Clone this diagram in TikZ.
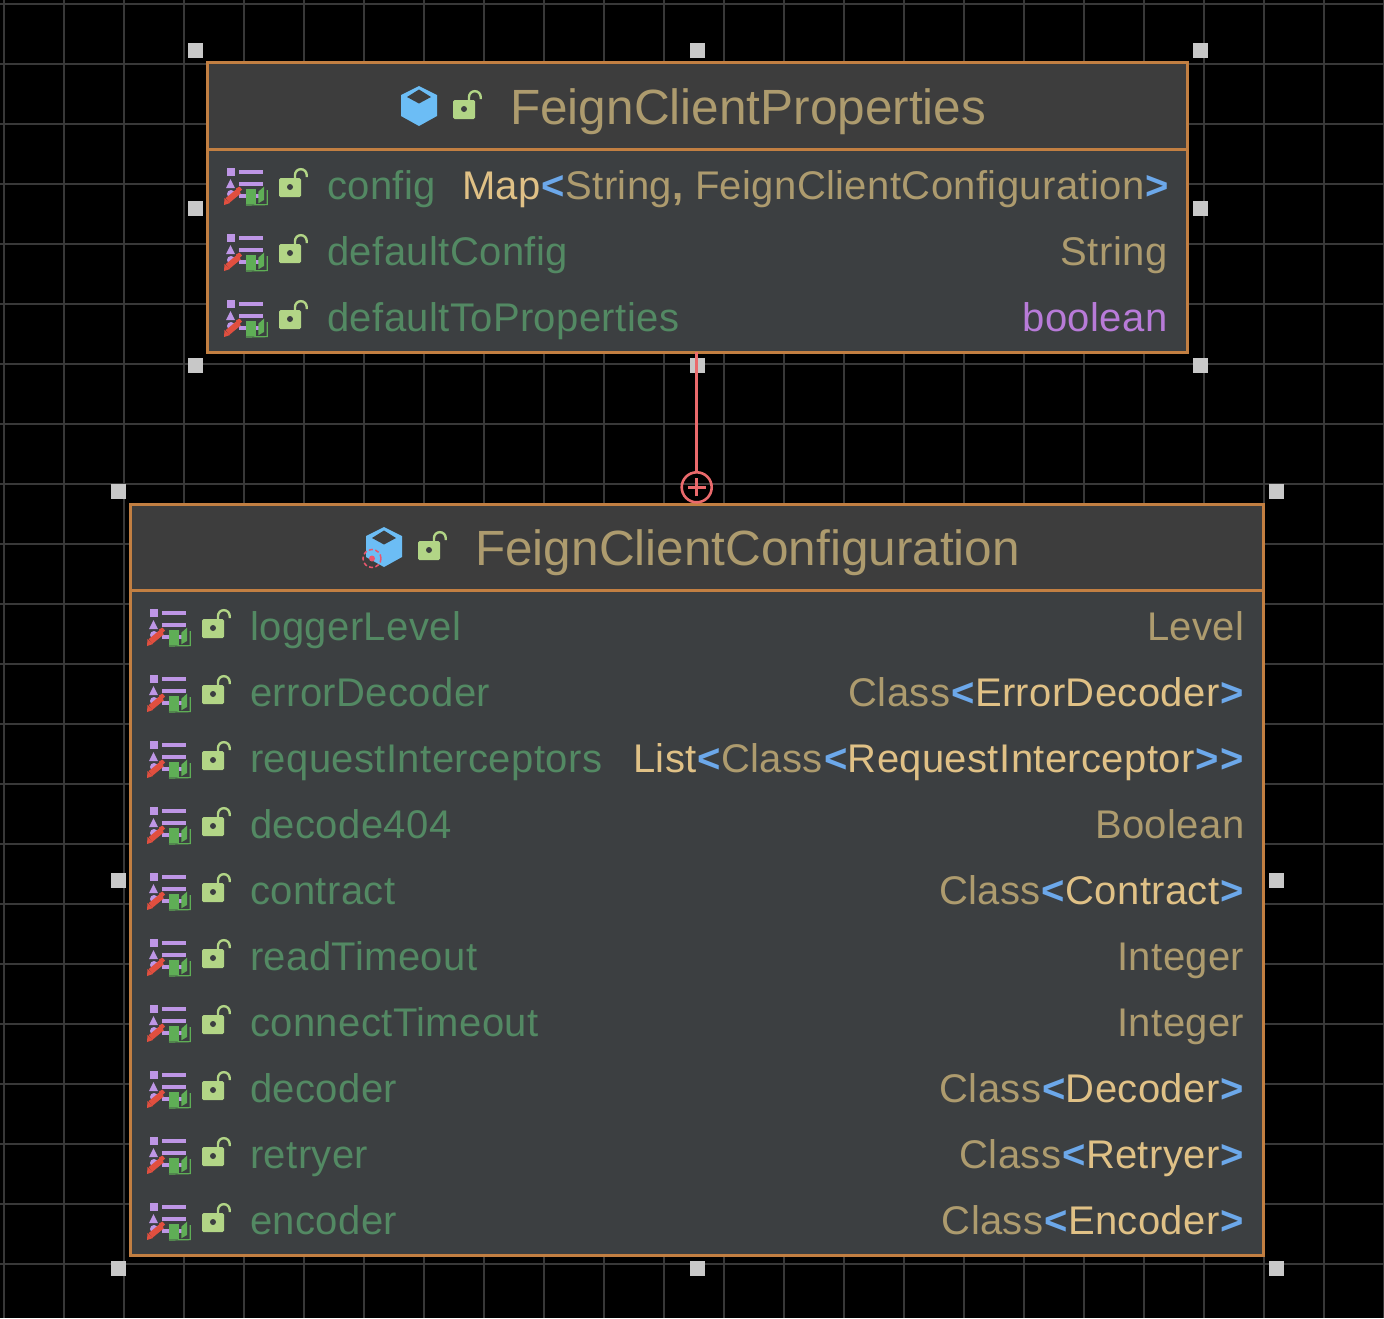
\documentclass[tikz,border=0pt]{standalone}
\usepackage{fontspec}
\setmainfont{Liberation Sans}
\newfontfamily\rowfont[LetterSpace=1]{Liberation Sans}
\usetikzlibrary{positioning}
\definecolor{boxbg}{HTML}{3C3F41}
\definecolor{headbg}{HTML}{3D3D3D}
\definecolor{boxedge}{HTML}{C27F42}
\definecolor{gridline}{HTML}{383838}
\definecolor{handlegray}{HTML}{C8C8C8}
\definecolor{titletan}{HTML}{AD9B6E}
\definecolor{namegreen}{HTML}{538963}
\definecolor{typedim}{HTML}{AD9B6E}
\definecolor{typelit}{HTML}{E0C186}
\definecolor{typeblue}{HTML}{6CA8EA}
\definecolor{typepurple}{HTML}{B87BD8}
\definecolor{linkred}{HTML}{EA6A6C}
\definecolor{lockgreen}{HTML}{B2D586}
\definecolor{fieldpurple}{HTML}{BE96E6}
\definecolor{bookgreen}{HTML}{5FAE56}
\definecolor{penred}{HTML}{E04F3F}
\definecolor{cubeblue}{HTML}{6CBDF5}
\definecolor{targetred}{HTML}{E9566E}
\newcommand{\dimty}[1]{\textcolor{typedim}{#1}}
\newcommand{\litty}[1]{\textcolor{typelit}{#1}}
\newcommand{\tyopen}{\kern1pt\textcolor{typeblue}{\textbf{<}}}
\newcommand{\tyclose}{\kern1pt\textcolor{typeblue}{\textbf{>}}}
\newcommand{\fieldrow}[6]{%
	\pic at (#1,#2) {fieldicon};
	\pic at (#1+55,#2) {lockicon};
	\node[fieldname] (#4name) at (#3,#2+13) {#4};
	\node[fieldtype] (#4type) at (#5+1.5,#2+13) {#6}}
\tikzset{
	handle/.style={fill=handlegray,draw=none,minimum size=15pt,inner sep=0pt,outer sep=0pt},
	umlbox/.style={fill=boxbg,draw=boxedge,line width=3pt,inner sep=0pt,outer sep=0pt,anchor=north west},
	titletext/.style={text=titletan,font=\fontsize{49.5}{49.5}\selectfont,anchor=base west,inner sep=0pt},
	fieldname/.style={text=namegreen,font=\rowfont\fontsize{40}{40}\selectfont,anchor=base west,inner sep=0pt},
	fieldtype/.style={font=\rowfont\fontsize{40}{40}\selectfont,anchor=base east,inner sep=0pt},
	lockicon/.pic={
		\fill[lockgreen,rounded corners=1.5pt] (0,-8) rectangle (22,11);
		\fill[boxbg] (11,1) circle (3pt);
		\draw[lockgreen,line width=2.4pt] (16,-8) -- (16,-11) arc[start angle=180,end angle=360,radius=5.85] -- (27.7,-9);
	},
	fieldicon/.pic={
		\fill[fieldpurple] (3,-18) rectangle (11,-10);
		\fill[fieldpurple] (15,-16) rectangle (39,-12);
		\fill[fieldpurple] (2,2) -- (6.5,-7) -- (11,2) -- cycle;
		\fill[fieldpurple] (15,-4) rectangle (39,0);
		\fill[fieldpurple] (15,8) rectangle (35,12);
		\fill[fieldpurple] (7,8) circle (4);
		\draw[penred,line width=6pt] (3.5,14.5) -- (15,5);
		\fill[penred] (0,19) -- (0.5,12) -- (6,17) -- cycle;
		\fill[penred] (12,2.5) -- (15.5,0.5) -- (18,3.5) -- (15,6.5) -- cycle;
		\fill[bookgreen] (22,3) rectangle (32,18);
		\fill[bookgreen] (34.3,5.7) -- (40,0.7) -- (40,14) -- (34.3,17.3) -- cycle;
		\draw[bookgreen,line width=1.2pt] (22,19) -- (43.3,18.6) -- (43.3,4);
	},
	cubeicon/.pic={
		\fill[cubeblue] (0,-20) -- (18,-11) -- (18,10) -- (0,20) -- (-18,10) -- (-18,-11) -- cycle;
		\fill[headbg] (0,-16.5) -- (12,-9) -- (0,-2.5) -- (-12,-9) -- cycle;
	}
}
\begin{document}
\begin{tikzpicture}[x=1pt,y=-1pt]
	\useasboundingbox (0,0) rectangle (1384,1318);
	\fill[black] (0,0) rectangle (1384,1318);
	% grid
	\foreach \gx in {4,64,...,1384}
		\draw[gridline,line width=2pt] (\gx,0) -- (\gx,1318);
	\foreach \gy in {4,64,...,1318}
		\draw[gridline,line width=2pt] (0,\gy) -- (1384,\gy);

	% first class
	\node[umlbox,minimum width=980.5pt,minimum height=290pt] (propsbox) at (207.3,62.2) {};
	\fill[headbg] (208.8,63.7) rectangle (1186.3,149.5);
	\draw[boxedge,line width=3pt] (propsbox.west |- 0,149.5) -- (propsbox.east |- 0,149.5);
	\pic at (419,106) {cubeicon};
	\pic at (453,108) {lockicon};
	\node[titletext] (propstitle) at (510,124) {FeignClientProperties};

	\fieldrow{224}{186}{327}{config}{1168}{\litty{Map}\tyopen\dimty{String\textbf{,} FeignClientConfiguration}\tyclose};
	\fieldrow{224}{252}{327}{defaultConfig}{1166}{\dimty{String}};
	\fieldrow{224}{318}{327}{defaultToProperties}{1166}{\textcolor{typepurple}{boolean}};

	% second class
	\node[umlbox,minimum width=1133.5pt,minimum height=751pt] (confbox) at (130,504) {};
	\fill[headbg] (131.5,505.5) rectangle (1262,590.5);
	\draw[boxedge,line width=3pt] (confbox.west |- 0,590.5) -- (confbox.east |- 0,590.5);
	\pic at (384,547) {cubeicon};
	\fill[targetred] (372,558.5) circle (3);
	\draw[targetred,line width=1.5pt,dash pattern=on 4pt off 2.5pt] (372,558.5) circle (9);
	\pic at (418,549) {lockicon};
	\node[titletext] (conftitle) at (475,565) {FeignClientConfiguration};

	\fieldrow{147}{627}{250}{loggerLevel}{1243}{\dimty{Level}};
	\fieldrow{147}{693}{250}{errorDecoder}{1243}{\dimty{Class}\tyopen\litty{ErrorDecoder}\tyclose};
	\fieldrow{147}{759}{250}{requestInterceptors}{1243}{\litty{List}\tyopen\dimty{Class}\tyopen\litty{RequestInterceptor}\tyclose\tyclose};
	\fieldrow{147}{825}{250}{decode404}{1243}{\dimty{Boolean}};
	\fieldrow{147}{891}{250}{contract}{1243}{\dimty{Class}\tyopen\litty{Contract}\tyclose};
	\fieldrow{147}{957}{250}{readTimeout}{1243}{\dimty{Integer}};
	\fieldrow{147}{1023}{250}{connectTimeout}{1243}{\dimty{Integer}};
	\fieldrow{147}{1089}{250}{decoder}{1243}{\dimty{Class}\tyopen\litty{Decoder}\tyclose};
	\fieldrow{147}{1155}{250}{retryer}{1243}{\dimty{Class}\tyopen\litty{Retryer}\tyclose};
	\fieldrow{147}{1221}{250}{encoder}{1243}{\dimty{Class}\tyopen\litty{Encoder}\tyclose};

	% handles
	\node[handle] (pa) at (195,50.5) {};
	\node[handle] (pb) at (697.5,50.5) {};
	\node[handle] (pc) at (1200,50.5) {};
	\node[handle] (pd) at (195,208) {};
	\node[handle] (pe) at (1200,208) {};
	\node[handle] (pf) at (195,365.5) {};
	\node[handle] (pg) at (697.5,365.5) {};
	\node[handle] (ph) at (1200,365.5) {};

	\node[handle] (ca) at (118.5,491.5) {};
	\node[handle] (cb) at (1276,491.5) {};
	\node[handle] (cc) at (118.5,880) {};
	\node[handle] (cd) at (1276,880) {};
	\node[handle] (ce) at (118.5,1268) {};
	\node[handle] (cf) at (697.5,1268) {};
	\node[handle] (cg) at (1276,1268) {};

	% inner class link
	\node[circle,draw=linkred,line width=2.6pt,minimum size=30pt,inner sep=0pt,outer sep=0pt] (nest) at (696.7,487.3) {};
	\draw[linkred,line width=2.6pt] (propsbox.south -| nest) -- (nest.north);
	\draw[linkred,line width=2.6pt] ([xshift=-9pt]nest.center) -- ([xshift=9pt]nest.center);
	\draw[linkred,line width=2.6pt] ([yshift=-9pt]nest.center) -- ([yshift=9pt]nest.center);
\end{tikzpicture}
\end{document}
